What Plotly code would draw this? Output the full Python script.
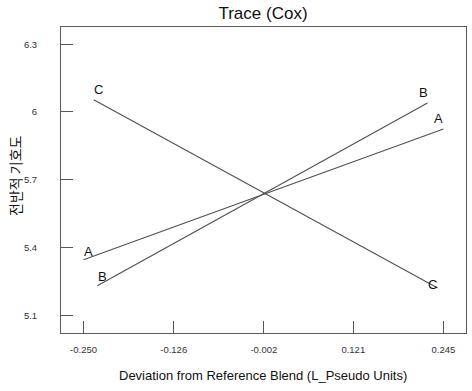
import plotly.graph_objects as go

# Data
series_names = ["A", "B", "C"]
x_A = [-0.250, 0.245]
y_A = [5.346, 5.925]
x_B = [-0.231, 0.223]
y_B = [5.231, 6.040]
x_C = [-0.236, 0.237]
y_C = [6.054, 5.221]

x_tickvals = [-0.250, -0.126, -0.002, 0.121, 0.245]
x_ticktext = ["-0.250", "-0.126", "-0.002", "0.121", "0.245"]
y_tickvals = [5.1, 5.4, 5.7, 6.0, 6.3]
y_ticktext = ["5.1", "5.4", "5.7", "6", "6.3"]

xs = [x_A, x_B, x_C]
ys = [y_A, y_B, y_C]

W, H = 472, 391
L, R, T, B = 61, 6, 27, 58

line_color = "#505050"
fig = go.Figure()
for name, x, y in zip(series_names, xs, ys):
    fig.add_trace(go.Scatter(x=x, y=y, mode="lines", name=name,
                             line=dict(color=line_color, width=1.1), showlegend=False))

# labels at both ends of each line
start_shift = {"A": (5, 8), "B": (5, 9), "C": (5, 10)}
end_shift = {"A": (-5, 10), "B": (-4, 10), "C": (-5, 4)}
for name, x, y in zip(series_names, xs, ys):
    sx, sy = start_shift[name]
    ex, ey = end_shift[name]
    fig.add_annotation(x=x[0], y=y[0], text=name, showarrow=False, xshift=sx, yshift=sy,
                       font=dict(family="Liberation Sans, Arial", size=13, color="#111111"))
    fig.add_annotation(x=x[-1], y=y[-1], text=name, showarrow=False, xshift=ex, yshift=ey,
                       font=dict(family="Liberation Sans, Arial", size=13, color="#111111"))

# axis titles as annotations for precise placement
pw = W - L - R
ph = H - T - B
fig.add_annotation(text="Deviation from Reference Blend (L_Pseudo Units)",
                   xref="paper", yref="paper", x=(263 - L) / pw, y=-(375 - (H - B)) / ph,
                   xanchor="center", yanchor="middle", showarrow=False,
                   font=dict(family="Liberation Sans, Arial", size=13, color="#111111"))
fig.add_annotation(text="전반적 기호도", textangle=-90,
                   xref="paper", yref="paper", x=-(L - 15) / pw, y=1 - (176 - T) / ph,
                   xanchor="center", yanchor="middle", showarrow=False,
                   font=dict(family="Noto Sans CJK KR", size=14, color="#111111"))

axis_common = dict(showgrid=False, zeroline=False, showline=True, linecolor="#5a5a5a",
                   linewidth=1, mirror=True, ticks="inside", ticklen=12, tickcolor="#555555",
                   tickwidth=1, automargin=False,
                   tickfont=dict(family="Liberation Sans, Arial", size=9.5, color="#333333"))

fig.update_layout(
    width=W, height=H,
    margin=dict(l=L, r=R, t=T, b=B, autoexpand=False),
    paper_bgcolor="white", plot_bgcolor="white",
    title=dict(text="Trace (Cox)", x=263 / W, xanchor="center", y=1 - 13 / H, yanchor="middle",
               yref="container", xref="container",
               font=dict(family="Liberation Sans, Arial", size=17, color="#111111")),
    xaxis=dict(range=[-0.281, 0.276], tickvals=x_tickvals, ticktext=x_ticktext,
               ticklabelstandoff=8, **axis_common),
    yaxis=dict(range=[5.022, 6.376], tickvals=y_tickvals, ticktext=y_ticktext,
               ticklabelstandoff=21, **axis_common),
)

fig.write_html("out.html", config={"displayModeBar": False},
               post_script="document.body.style.margin='0';document.body.style.overflow='hidden';")
